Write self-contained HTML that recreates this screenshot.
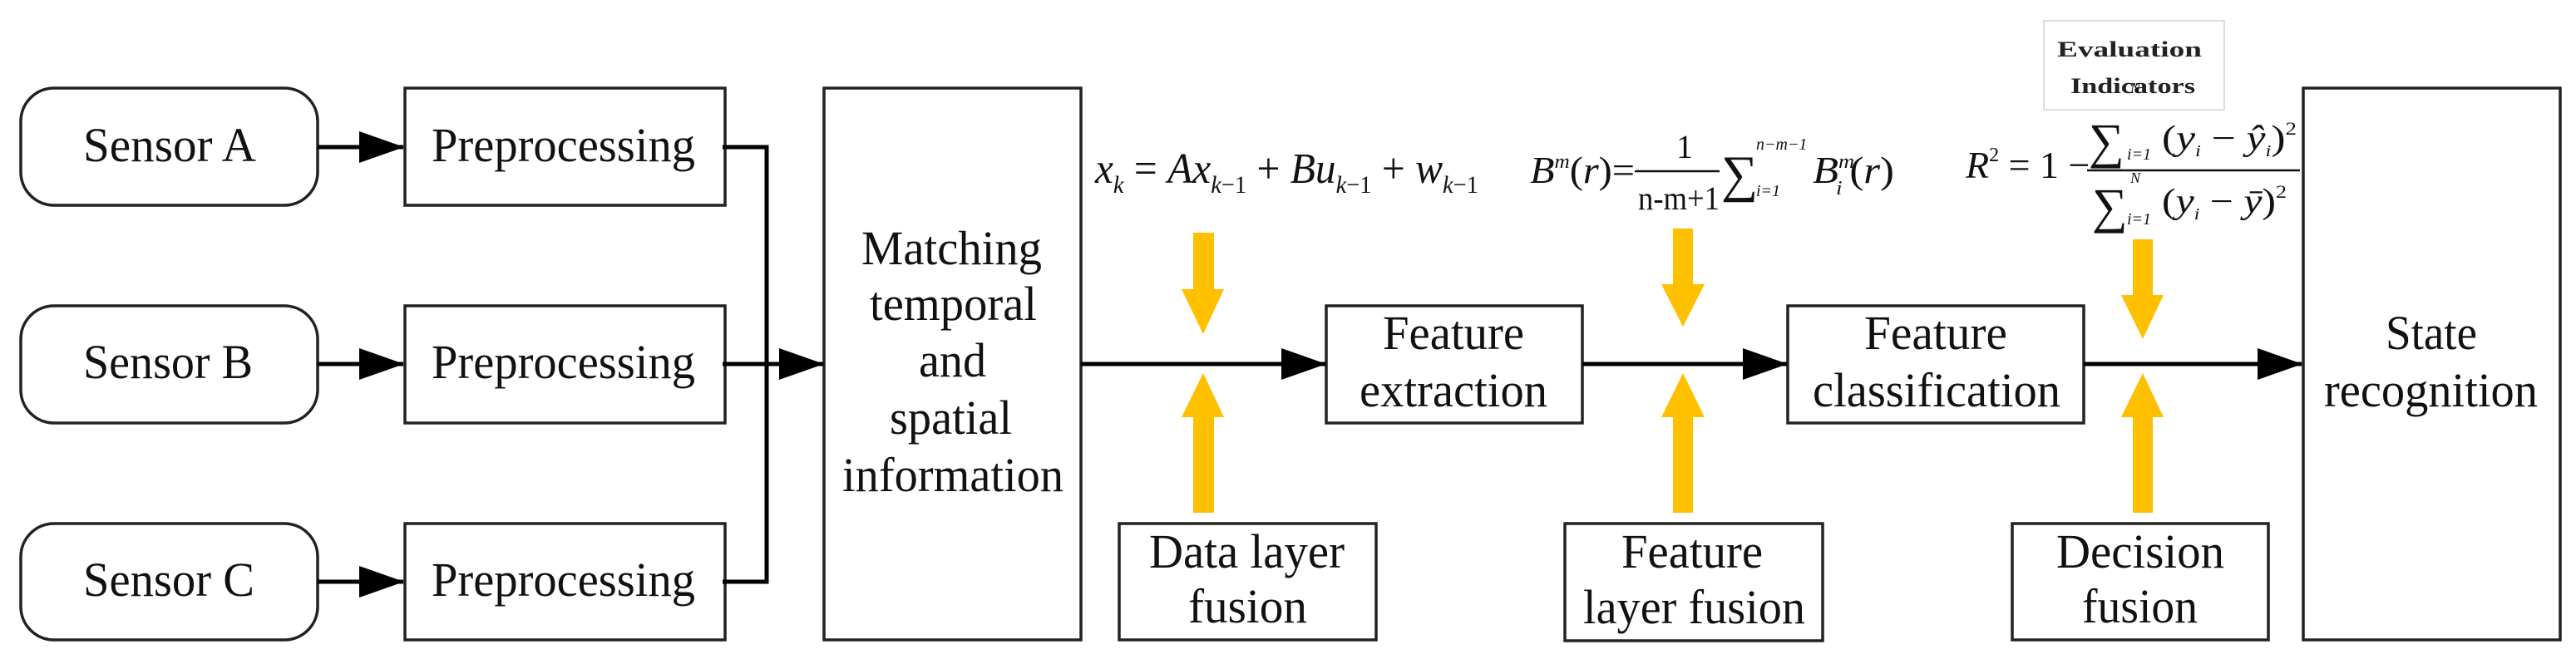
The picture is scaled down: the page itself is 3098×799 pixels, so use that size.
<!DOCTYPE html>
<html><head><meta charset="utf-8"><style>html,body{margin:0;padding:0;background:#fff}svg{display:block}</style></head>
<body>
<svg width="3098" height="799" viewBox="0 0 3098 799" xmlns="http://www.w3.org/2000/svg" font-family="'Liberation Serif', serif">
<defs>
<marker id="ah" markerUnits="userSpaceOnUse" markerWidth="54" markerHeight="38" refX="53" refY="19" orient="auto"><path d="M0,0 L54,19 L0,38 Z" fill="#000"/></marker>
</defs>
<g fill="none" stroke="#222" stroke-width="3.5">
<rect x="25" y="106" width="357" height="141" rx="40"/>
<rect x="25" y="368" width="357" height="141" rx="40"/>
<rect x="25" y="630" width="357" height="140" rx="40"/>
<rect x="487" y="106" width="385" height="141"/>
<rect x="487" y="368" width="385" height="141"/>
<rect x="487" y="630" width="385" height="140"/>
<rect x="991" y="106" width="309" height="664"/>
<rect x="1595" y="368" width="308" height="141"/>
<rect x="2150" y="368" width="356" height="141"/>
<rect x="2770" y="106" width="309" height="664"/>
<rect x="1346" y="630" width="309" height="140"/>
<rect x="1882" y="630" width="310" height="141"/>
<rect x="2420" y="630" width="308" height="140"/>
</g>
<rect x="2458" y="25" width="217" height="107" fill="none" stroke="#ddd" stroke-width="2"/>
<g stroke="#000" stroke-width="5" fill="none">
<line x1="382" y1="177" x2="485" y2="177" marker-end="url(#ah)"/>
<line x1="382" y1="438" x2="485" y2="438" marker-end="url(#ah)"/>
<line x1="382" y1="700" x2="485" y2="700" marker-end="url(#ah)"/>
<polyline points="869,177 922,177 922,700 869,700"/>
<line x1="869" y1="438" x2="990" y2="438" marker-end="url(#ah)"/>
<line x1="1300" y1="438" x2="1594" y2="438" marker-end="url(#ah)"/>
<line x1="1903" y1="438" x2="2149" y2="438" marker-end="url(#ah)"/>
<line x1="2506" y1="438" x2="2768" y2="438" marker-end="url(#ah)"/>
</g>
<g fill="#FFC000">
<path d="M1435,280 H1460 V348 H1472 L1447,402 L1421,348 H1435 Z"/>
<path d="M1447,449 L1472,502 H1460 V617 H1435 V502 H1421 Z"/>
<path d="M2012,275 H2036 V342 H2050 L2024,393 L1998,342 H2012 Z"/>
<path d="M2024,449 L2050,502 H2036 V617 H2012 V502 H1998 Z"/>
<path d="M2565,288 H2589 V355 H2602 L2577,408 L2551,355 H2565 Z"/>
<path d="M2577,449 L2602,502 H2589 V617 H2565 V502 H2551 Z"/>
</g>
<g font-size="58" fill="#111" lengthAdjust="spacingAndGlyphs">
<text x="100" y="194" textLength="208" lengthAdjust="spacingAndGlyphs">Sensor A</text>
<text x="100" y="455" textLength="204" lengthAdjust="spacingAndGlyphs">Sensor B</text>
<text x="100" y="717" textLength="206" lengthAdjust="spacingAndGlyphs">Sensor C</text>
<text x="519" y="194" textLength="317" lengthAdjust="spacingAndGlyphs">Preprocessing</text>
<text x="519" y="455" textLength="317" lengthAdjust="spacingAndGlyphs">Preprocessing</text>
<text x="519" y="717" textLength="317" lengthAdjust="spacingAndGlyphs">Preprocessing</text>
<text x="1036" y="318" textLength="217" lengthAdjust="spacingAndGlyphs">Matching</text>
<text x="1046" y="385" textLength="201" lengthAdjust="spacingAndGlyphs">temporal</text>
<text x="1105" y="453" textLength="81" lengthAdjust="spacingAndGlyphs">and</text>
<text x="1070" y="522" textLength="147" lengthAdjust="spacingAndGlyphs">spatial</text>
<text x="1013" y="591" textLength="266" lengthAdjust="spacingAndGlyphs">information</text>
<text x="1663" y="420" textLength="170" lengthAdjust="spacingAndGlyphs">Feature</text>
<text x="1635" y="489" textLength="226" lengthAdjust="spacingAndGlyphs">extraction</text>
<text x="2242" y="420" textLength="172" lengthAdjust="spacingAndGlyphs">Feature</text>
<text x="2180" y="489" textLength="298" lengthAdjust="spacingAndGlyphs">classification</text>
<text x="2869" y="420" textLength="110" lengthAdjust="spacingAndGlyphs">State</text>
<text x="2795" y="489" textLength="257" lengthAdjust="spacingAndGlyphs">recognition</text>
<text x="1382" y="683" textLength="235" lengthAdjust="spacingAndGlyphs">Data layer</text>
<text x="1429" y="749" textLength="143" lengthAdjust="spacingAndGlyphs">fusion</text>
<text x="1950" y="683" textLength="170" lengthAdjust="spacingAndGlyphs">Feature</text>
<text x="1904" y="750" textLength="267" lengthAdjust="spacingAndGlyphs">layer fusion</text>
<text x="2473" y="683" textLength="202" lengthAdjust="spacingAndGlyphs">Decision</text>
<text x="2504" y="749" textLength="139" lengthAdjust="spacingAndGlyphs">fusion</text>
</g>
<g font-size="26" font-weight="bold" fill="#222">
<text x="2474" y="68" textLength="174" lengthAdjust="spacingAndGlyphs">Evaluation</text>
<text x="2490" y="112" textLength="150" lengthAdjust="spacingAndGlyphs">Indicators</text>
</g>
<!-- formula 1 -->
<g fill="#111" font-size="52">
<text x="1317" y="220" textLength="461" lengthAdjust="spacingAndGlyphs"><tspan font-style="italic">x</tspan><tspan font-size="30" font-style="italic" dy="12">k</tspan><tspan dy="-12"> = </tspan><tspan font-style="italic">Ax</tspan><tspan font-size="30" dy="12"><tspan font-style="italic">k</tspan>−1</tspan><tspan dy="-12"> + </tspan><tspan font-style="italic">Bu</tspan><tspan font-size="30" dy="12"><tspan font-style="italic">k</tspan>−1</tspan><tspan dy="-12"> + </tspan><tspan font-style="italic">w</tspan><tspan font-size="30" dy="12"><tspan font-style="italic">k</tspan>−1</tspan></text>
</g>
<!-- formula 2 -->
<g fill="#111">
<text x="1840" y="220" font-size="46" textLength="126" lengthAdjust="spacingAndGlyphs"><tspan font-style="italic">B</tspan><tspan font-size="24" font-style="italic" dy="-18">m</tspan><tspan dy="18">(</tspan><tspan font-style="italic">r</tspan>)=</text>
<text x="2016" y="190" font-size="40">1</text>
<line x1="1966" y1="206" x2="2068" y2="206" stroke="#111" stroke-width="2.5"/>
<text x="1970" y="252" font-size="40" textLength="98" lengthAdjust="spacingAndGlyphs">n-m+1</text>
<text x="2070" y="230" font-size="62">∑</text>
<text x="2112" y="180" font-size="20" font-style="italic">n−m−1</text>
<text x="2112" y="236" font-size="20" font-style="italic">i=1</text>
<text x="2180" y="220" font-size="46" textLength="98" lengthAdjust="spacingAndGlyphs"><tspan font-style="italic">B</tspan><tspan font-size="24" font-style="italic" dy="-18">m</tspan><tspan font-size="24" font-style="italic" dx="-20" dy="32">i</tspan><tspan dx="8" dy="-14">(</tspan><tspan font-style="italic">r</tspan>)</text>
</g>
<!-- formula 3 -->
<g fill="#111">
<text x="2364" y="214" font-size="46"><tspan font-style="italic">R</tspan><tspan font-size="24" dy="-20">2</tspan><tspan dy="20"> = 1 − </tspan></text>
<line x1="2510" y1="205" x2="2766" y2="205" stroke="#111" stroke-width="2.5"/>
<text x="2512" y="190" font-size="60">∑</text>
<text x="2562" y="112" font-size="18" font-style="italic">N</text>
<text x="2558" y="192" font-size="20" font-style="italic">i=1</text>
<text x="2600" y="180" font-size="42" textLength="162" lengthAdjust="spacingAndGlyphs">(<tspan font-style="italic">y</tspan><tspan font-size="20" font-style="italic" dy="8">i</tspan><tspan dy="-8"> − </tspan><tspan font-style="italic">ŷ</tspan><tspan font-size="20" font-style="italic" dy="8">i</tspan><tspan dy="-8">)</tspan><tspan font-size="22" dy="-18">2</tspan></text>
<text x="2516" y="268" font-size="60">∑</text>
<text x="2562" y="220" font-size="18" font-style="italic">N</text>
<text x="2558" y="270" font-size="20" font-style="italic">i=1</text>
<text x="2600" y="256" font-size="42" textLength="150" lengthAdjust="spacingAndGlyphs">(<tspan font-style="italic">y</tspan><tspan font-size="20" font-style="italic" dy="8">i</tspan><tspan dy="-8"> − </tspan><tspan font-style="italic">ȳ</tspan>)<tspan font-size="22" dy="-18">2</tspan></text>
</g>
</svg>
</body></html>
